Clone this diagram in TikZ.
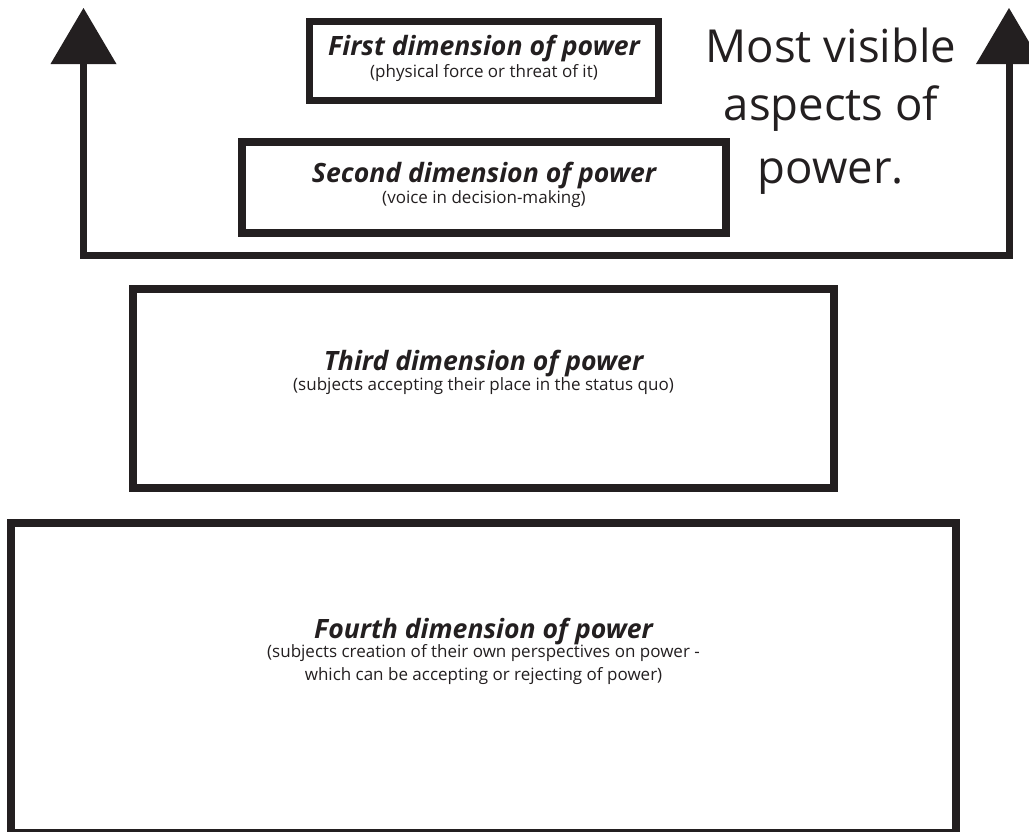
\documentclass[tikz,border=0pt]{standalone}
\usepackage{fontspec}
\setmainfont{Open Sans}
\definecolor{ink}{HTML}{231F20}
\begin{document}
\begin{tikzpicture}[x=1pt,y=-1pt,
  box/.style={draw=ink, line width=8pt, inner sep=0pt, rectangle},
  ttl/.style={font=\fontsize{26.6}{30}\selectfont\bfseries\itshape, text=ink, inner sep=0pt, anchor=base},
  sub/.style={font=\fontsize{17}{20}\selectfont, text=ink, inner sep=0pt, anchor=base},
  big/.style={font=\fontsize{45.5}{50}\selectfont, text=ink, inner sep=0pt, anchor=base},
  conn/.style={draw=ink, line width=7pt, line join=miter},
  head/.style={fill=ink}]
\useasboundingbox (0,0) rectangle (1029,831);
\fill[white] (0,0) rectangle (1029,831);
\clip (0,0) rectangle (1029,831);

% boxes
\node[box, line width=7pt, minimum width=349pt, minimum height=79pt] (b1) at (484,61) {};
\node[box, minimum width=484pt, minimum height=91pt] (b2) at (484,187.5) {};
\node[box, minimum width=701pt, minimum height=199pt] (b3) at (483.5,388.5) {};
\node[box, minimum width=945pt, minimum height=310pt] (b4) at (483.5,678) {};

% texts
\node[ttl] (t1) at (484,55) {First dimension of power};
\node[sub] (s1) at (484,77) {(physical force or threat of it)};
\node[ttl] (t2) at (484,182) {Second dimension of power};
\node[sub] (s2) at (484,203) {(voice in decision-making)};
\node[ttl] (t3) at (483.5,370) {Third dimension of power};
\node[sub] (s3) at (483.5,390) {(subjects accepting their place in the status quo)};
\node[ttl] (t4) at (483.5,638) {Fourth dimension of power};
\node[sub] (s4a) at (483.5,657) {(subjects creation of their own perspectives on power -};
\node[sub] (s4b) at (483.5,680) {which can be accepting or rejecting of power)};

\node[big] (m1) at (831,62) {Most visible};
\node[big] (m2) at (831,120) {aspects of};
\node[big] (m3) at (831,183) {power.};

% arrow frame
\coordinate (ltip) at (83.5,8);
\coordinate (rtip) at (1009,8);
\coordinate (la) at (83.5,60);
\coordinate (lc) at (83.5,255);
\coordinate (rc) at (1009,255);
\coordinate (ra) at (1009,60);
\draw[conn] (la) -- (lc) -- (rc) -- (ra);
\fill[head] (ltip) -- ++(-33,56) -- ++(66,0) -- cycle;
\fill[head] (rtip) -- ++(-33,56) -- ++(66,0) -- cycle;
\end{tikzpicture}
\end{document}
